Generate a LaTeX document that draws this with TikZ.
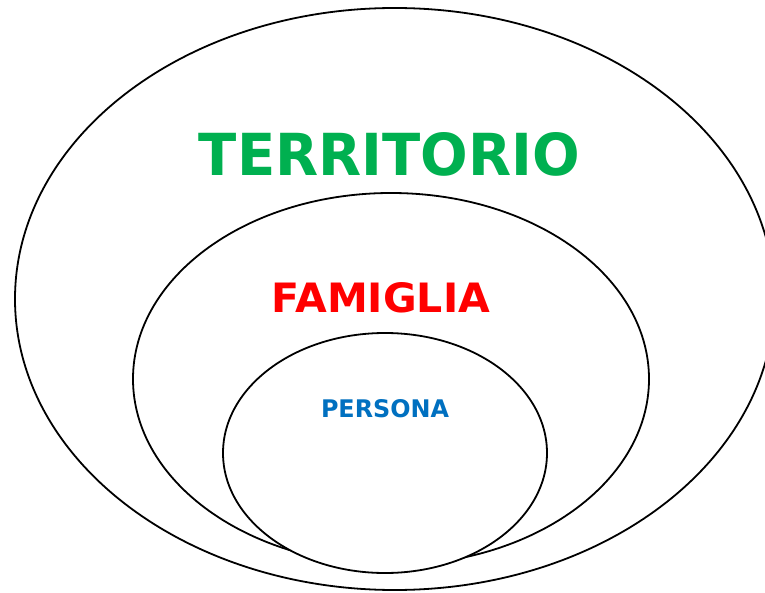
\documentclass[tikz,border=0pt]{standalone}
\usepackage{fontspec}
\setmainfont{DejaVu Sans}
\usetikzlibrary{shapes.geometric}
\definecolor{terrgreen}{RGB}{0,176,80}
\definecolor{famred}{RGB}{255,0,0}
\definecolor{perblue}{RGB}{0,112,192}
\tikzset{
  ring/.style={ellipse, draw=black, line width=1.8pt, inner sep=0pt, fill=white},
  label/.style={inner sep=0pt, outer sep=0pt, anchor=center, font=\bfseries}
}
\begin{document}
\begin{tikzpicture}[x=1pt,y=-1pt]
\useasboundingbox (0,0) rectangle (765,593);
\fill[white] (0,0) rectangle (765,593);
\node[ring, minimum width=759.4pt, minimum height=582pt] (terr) at (394.7,299) {};
\node[ring, minimum width=516pt, minimum height=372pt] (fam) at (391,379) {};
\node[ring, minimum width=324pt, minimum height=240pt] (pers) at (385,453) {};
\node[label, text=terrgreen] (tterr) at (389.5,154.5) {\resizebox{381pt}{43pt}{TERRITORIO}};
\node[label, text=famred] (tfam) at (381,298) {\resizebox{218pt}{30pt}{FAMIGLIA}};
\node[label, text=perblue] (tpers) at (385,409) {\resizebox{128pt}{18pt}{PERSONA}};
\end{tikzpicture}
\end{document}
